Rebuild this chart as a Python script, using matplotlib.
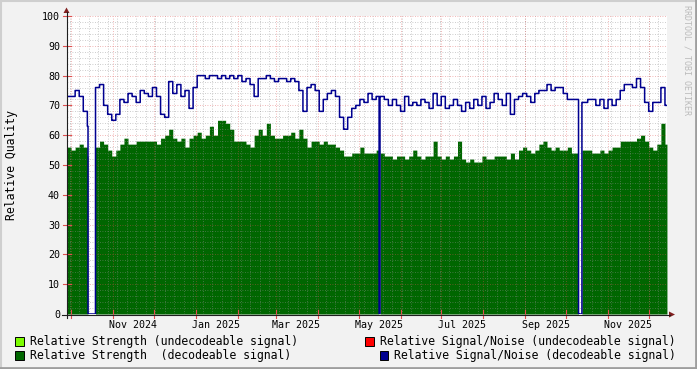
import numpy as np
import matplotlib
matplotlib.use("Agg")
import matplotlib.pyplot as plt
import matplotlib.dates as mdates
from matplotlib.lines import Line2D
from matplotlib.patches import Rectangle, Polygon
from datetime import datetime, timedelta

# ---------------- data ----------------
start_date = "2024-09-28"
step_days = 3
end_date = "2025-12-14 12:00"

# Relative Strength (decodeable signal), one value per 3 days
strength = [56, 55, 56, 57, 56, 53, 55, 56, 58, 57, 55, 53, 55, 57, 59, 57, 57, 58, 58, 58,
            58, 58, 57, 59, 60, 62, 59, 58, 59, 56, 59, 60, 61, 59, 60, 63, 60, 65, 65, 64,
            62, 58, 58, 58, 57, 56, 60, 62, 60, 64, 60, 59, 59, 60, 60, 61, 59, 62, 59, 56,
            58, 58, 57, 58, 57, 57, 56, 55, 53, 53, 54, 54, 56, 54, 54, 54, 55, 54, 53, 53,
            52, 53, 53, 52, 53, 55, 53, 52, 53, 53, 58, 53, 52, 53, 52, 53, 58, 52, 51, 52,
            51, 51, 53, 52, 52, 53, 53, 53, 52, 54, 52, 55, 56, 55, 54, 55, 57, 58, 56, 55,
            56, 55, 55, 56, 54, 54, 55, 55, 55, 54, 54, 55, 54, 55, 56, 56, 58, 58, 58, 58,
            59, 60, 58, 56, 55, 57, 64, 57]

# Relative Signal/Noise (decodeable signal), one value per 3 days
snr = [73, 73, 75, 73, 68, 63, 70, 76, 77, 70, 67, 65, 67, 72, 71, 74, 73, 71, 75, 74,
       73, 76, 73, 67, 66, 78, 74, 77, 73, 75, 69, 76, 80, 80, 79, 80, 80, 79, 80, 79,
       80, 79, 80, 78, 79, 77, 73, 79, 79, 80, 79, 78, 79, 79, 78, 79, 78, 75, 68, 76,
       77, 75, 68, 72, 74, 75, 73, 66, 62, 66, 69, 70, 72, 71, 74, 72, 73, 73, 72, 70,
       72, 70, 68, 73, 70, 71, 70, 72, 71, 69, 74, 70, 73, 69, 70, 72, 70, 68, 71, 69,
       72, 70, 73, 69, 71, 74, 72, 70, 74, 67, 72, 73, 74, 73, 71, 74, 75, 75, 77, 75,
       76, 76, 74, 72, 72, 72, 71, 71, 72, 72, 70, 72, 69, 72, 70, 72, 75, 77, 77, 76,
       79, 76, 71, 68, 71, 71, 76, 70]

# periods with zero readings (signal lost)
outages = [("2024-10-13 12:00", "2024-10-19 00:00"),
           ("2025-05-16 04:00", "2025-05-16 20:00"),
           ("2025-10-10 06:00", "2025-10-12 18:00")]

legend_labels = ["Relative Strength (undecodeable signal)",
                 "Relative Strength  (decodeable signal)",
                 "Relative Signal/Noise (undecodeable signal)",
                 "Relative Signal/Noise (decodeable signal)"]
legend_colors = ["#7CFC00", "#006600", "#FF0000", "#000090"]

y_ticks = [0, 10, 20, 30, 40, 50, 60, 70, 80, 90, 100]
label_months = ["2024-11-01", "2025-01-01", "2025-03-01", "2025-05-01",
                "2025-07-01", "2025-09-01", "2025-11-01"]

# ---------------- build step series ----------------
t0 = np.datetime64(start_date)
t_end = np.datetime64(datetime.fromisoformat(end_date))
fine = np.arange(t0, t_end, np.timedelta64(1, "h"))
idx = ((fine - t0) / np.timedelta64(step_days, "D")).astype(int)
idx = np.clip(idx, 0, len(strength) - 1)
s_fine = np.array(strength, float)[idx]
n_fine = np.array(snr, float)[idx]
for a, b in outages:
    m = (fine >= np.datetime64(datetime.fromisoformat(a))) & (fine < np.datetime64(datetime.fromisoformat(b)))
    s_fine[m] = 0
    n_fine[m] = 0
fine_dt = fine.astype("datetime64[s]").astype(datetime)

# ---------------- figure ----------------
W, H = 697, 369
fig = plt.figure(figsize=(W / 100, H / 100), dpi=100)
fig.patch.set_facecolor("#F2F2F2")
L, R, T, B = 67, 667, 16, 314
ax = fig.add_axes([L / W, 1 - B / H, (R - L) / W, (B - T) / H])
ax.set_facecolor("white")
for sp in ax.spines.values():
    sp.set_visible(False)

xmin = datetime.fromisoformat(start_date)
xmax = datetime.fromisoformat(end_date)
ax.set_xlim(xmin, xmax)
ax.set_ylim(0, 100)

ax.fill_between(fine_dt, 0, s_fine, step="post", color="#006600", linewidth=0, zorder=2)
ax.plot(fine_dt, n_fine, drawstyle="steps-post", color="#000090", linewidth=1.1, zorder=4)

# grid
grid_c = (0.56, 0.56, 0.56, 0.6)
mgrid_c = (0.87, 0.31, 0.31, 0.55)
dash = (0, (1, 2))
for v in np.arange(0, 101, 2):
    if v % 10 == 0:
        continue
    ax.axhline(v, color=grid_c, lw=0.6, ls=dash, zorder=3)
weeks = mdates.WeekdayLocator(byweekday=mdates.MO)
weeks.set_axis(ax.xaxis)
for d in weeks.tick_values(xmin, xmax):
    ax.axvline(d, color=grid_c, lw=0.6, ls=dash, zorder=3)
months = mdates.MonthLocator()
month_pos = [d for d in months.tick_values(xmin, xmax) if mdates.date2num(xmin) < d < mdates.date2num(xmax)]
for d in month_pos:
    ax.axvline(d, color=mgrid_c, lw=0.6, ls=dash, zorder=3)
for v in y_ticks[1:]:
    ax.axhline(v, color=mgrid_c, lw=0.6, ls=dash, zorder=3)

# ticks
ax.set_yticks(y_ticks)
ax.set_yticklabels([str(v) for v in y_ticks])
lab_pos = [datetime.fromisoformat(m) + timedelta(days=15) for m in label_months]
ax.set_xticks(lab_pos)
ax.set_xticklabels([d.strftime("%b %Y") for d in lab_pos])
ax.tick_params(axis="both", length=0, labelsize=7.2, colors="black")
ax.tick_params(axis="y", pad=5)
ax.tick_params(axis="x", pad=4)
for lab in ax.get_xticklabels() + ax.get_yticklabels():
    lab.set_family("DejaVu Sans Mono")

# small tick marks
xt = ax.get_xaxis_transform()
yt = ax.get_yaxis_transform()
for d in month_pos:
    ax.plot([d, d], [-0.012, 0.012], color=mgrid_c[:3], lw=0.8, transform=xt, clip_on=False, zorder=6)
for v in y_ticks[1:]:
    ax.plot([-0.006, 0.006], [v, v], color=mgrid_c[:3], lw=0.8, transform=yt, clip_on=False, zorder=6)

# axes + arrows (figure pixel coordinates)
def fx(x):
    return x / W

def fy(y):
    return 1 - y / H

axis_c = (0.12, 0.12, 0.12)
arrow_c = (0.5, 0.12, 0.12)
fig.add_artist(Line2D([fx(66.5), fx(66.5)], [fy(318), fy(12)], color=axis_c, lw=0.8))
fig.add_artist(Line2D([fx(62), fx(670)], [fy(314.5), fy(314.5)], color=axis_c, lw=0.8))
fig.add_artist(Polygon([[fx(63.5), fy(13)], [fx(69.5), fy(13)], [fx(66.5), fy(7.5)]], closed=True,
                       color=arrow_c, lw=0))
fig.add_artist(Polygon([[fx(669), fy(311.5)], [fx(669), fy(317.5)], [fx(675), fy(314.5)]], closed=True,
                       color=arrow_c, lw=0))

# y label
fig.text(fx(12), fy(165), "Relative Quality", rotation=90, ha="center", va="center",
         family="DejaVu Sans Mono", fontsize=8.3)

# watermark
fig.text(fx(687), fy(5), "RRDTOOL / TOBI OETIKER", rotation=-90, ha="center", va="top",
         family="DejaVu Sans Mono", fontsize=6.0, color="#BBBBBB")

# legend
leg = [(15, 337, 30, 341.5), (15, 351, 30, 355.5), (365, 337, 380, 341.5), (379.5, 351, 394, 355.5)]
for (sx, sy, tx, ty), lab, col in zip(leg, legend_labels, legend_colors):
    fig.add_artist(Rectangle((fx(sx), fy(sy + 8.5)), 8.5 / W, 8.5 / H, facecolor=col,
                             edgecolor="black", lw=0.7))
    fig.text(fx(tx), fy(ty), lab, ha="left", va="center", family="DejaVu Sans Mono", fontsize=8.3)

# 3D border
fig.add_artist(Line2D([0, 1], [fy(0.5), fy(0.5)], color=(0.81, 0.81, 0.81), lw=1.5))
fig.add_artist(Line2D([fx(0.5), fx(0.5)], [0, 1], color=(0.81, 0.81, 0.81), lw=1.5))
fig.add_artist(Line2D([0, 1], [fy(368), fy(368)], color=(0.62, 0.62, 0.62), lw=2))
fig.add_artist(Line2D([fx(696), fx(696)], [0, 1], color=(0.62, 0.62, 0.62), lw=2))

fig.savefig("out.png", dpi=100, facecolor=fig.get_facecolor())
